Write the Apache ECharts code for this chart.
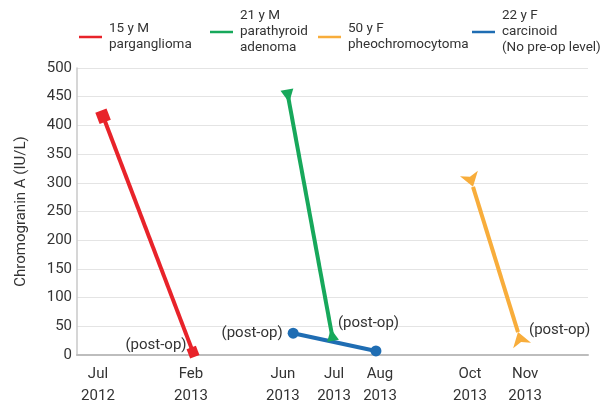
<!DOCTYPE html>
<html>
<head>
<meta charset="utf-8">
<script src="https://cdn.jsdelivr.net/npm/echarts@6/dist/echarts.min.js"></script>
<style>html,body{margin:0;padding:0;background:#fff}#c{width:603px;height:411px}</style>
</head>
<body>
<div id="c"></div>
<script>
// ---- data ----
const seriesNames = ['15 y M\nparganglioma', '21 y M\nparathyroid\nadenoma', '50 y F\npheochromocytoma', '22 y F\ncarcinoid\n(No pre-op level)'];
const xTicks = [4.1, 22.3, 40.3, 50.3, 59.3, 76.9, 87.7];
const xTickLabels = ['Jul\n2012', 'Feb\n2013', 'Jun\n2013', 'Jul\n2013', 'Aug\n2013', 'Oct\n2013', 'Nov\n2013'];
const redX = [5.1, 22.7];   const redY = [416, 5];
const greenX = [41.3, 49.9]; const greenY = [451, 35];
const orangeX = [77.5, 86.3]; const orangeY = [293, 40];
const blueX = [42.3, 58.5];  const blueY = [38, 7];
const yTitle = 'Chromogranin A (IU/L)';
const postOp = '(post-op)';

// ---- styles ----
const FONT = "Roboto,'Liberation Sans',sans-serif";
const TXT = '#333';
const colors = ['#e8232a', '#17a85b', '#f8ad3b', '#1f6db3'];

function pts(xs, ys, marks) {
  return xs.map((x, i) => Object.assign({ value: [x, ys[i]] }, marks[i] || {}));
}
function lbl(position, distance, offset) {
  return { show: true, formatter: postOp, position, distance, offset, color: TXT, fontSize: 15, fontFamily: FONT };
}

const chart = echarts.init(document.getElementById('c'), null, { renderer: 'canvas' });
const legendTops = [21, 8, 21, 8];
const legendLefts = [79, 210, 318, 472];
chart.setOption({
  animation: false,
  textStyle: { fontFamily: FONT },
  color: colors,
  legend: seriesNames.map((n, i) => ({
    data: [n], left: legendLefts[i], top: legendTops[i], padding: 0,
    icon: 'rect', itemWidth: 23, itemHeight: 2.5,
    textStyle: { fontFamily: FONT, fontSize: 13.5, lineHeight: 16, color: TXT, padding: [0, 0, 0, 2] }
  })),
  grid: { left: 77, right: 15, top: 68, bottom: 56, containLabel: false },
  xAxis: {
    type: 'value', min: 0, max: 100,
    axisLine: { show: true, lineStyle: { color: '#bdbdbd', width: 2 } },
    axisTick: { show: false },
    splitLine: { show: false },
    axisLabel: {
      customValues: xTicks,
      formatter: v => { const k = xTicks.indexOf(v); return k >= 0 ? xTickLabels[k] : ''; },
      color: TXT, fontSize: 15, lineHeight: 22, margin: 8, fontFamily: FONT
    }
  },
  yAxis: {
    type: 'value', min: 0, max: 500, interval: 50,
    name: yTitle, nameLocation: 'middle', nameGap: 48, nameRotate: 90,
    nameTextStyle: { color: TXT, fontSize: 15, fontFamily: FONT },
    axisLine: { show: true, lineStyle: { color: '#c8c8c8', width: 1.5 } },
    axisTick: { show: false },
    splitLine: { show: true, lineStyle: { color: '#e4e4e4', width: 1 } },
    axisLabel: { color: TXT, fontSize: 15, margin: 5, fontFamily: FONT }
  },
  series: [
    {
      name: seriesNames[0], type: 'line', lineStyle: { width: 4 }, z: 3,
      data: pts(redX, redY, [
        { symbol: 'rect', symbolSize: 12, symbolRotate: 21 },
        { symbol: 'rect', symbolSize: 10, symbolRotate: 21, label: lbl('left', 0, [0, -7]) }
      ])
    },
    {
      name: seriesNames[1], type: 'line', lineStyle: { width: 4 }, z: 3,
      data: pts(greenX, greenY, [
        { symbol: 'triangle', symbolSize: 13, symbolRotate: 190 },
        { symbol: 'triangle', symbolSize: 12, symbolRotate: 10, label: lbl('right', -1, [0, -12]) }
      ])
    },
    {
      name: seriesNames[2], type: 'line', lineStyle: { width: 4 }, z: 3,
      data: pts(orangeX, orangeY, [
        { symbol: 'arrow', symbolSize: 14, symbolRotate: 197 },
        { symbol: 'arrow', symbolSize: 14, symbolRotate: 17, label: lbl('right', -2, [0, -8]) }
      ])
    },
    {
      name: seriesNames[3], type: 'line', lineStyle: { width: 4 }, z: 3,
      data: pts(blueX, blueY, [
        { symbol: 'circle', symbolSize: 11, label: lbl('left', 5, [0, 0]) },
        { symbol: 'circle', symbolSize: 11 }
      ])
    }
  ].map(s => Object.assign(s, { showSymbol: true, itemStyle: { opacity: 1 }, emphasis: { disabled: true } }))
});
</script>
</body>
</html>
